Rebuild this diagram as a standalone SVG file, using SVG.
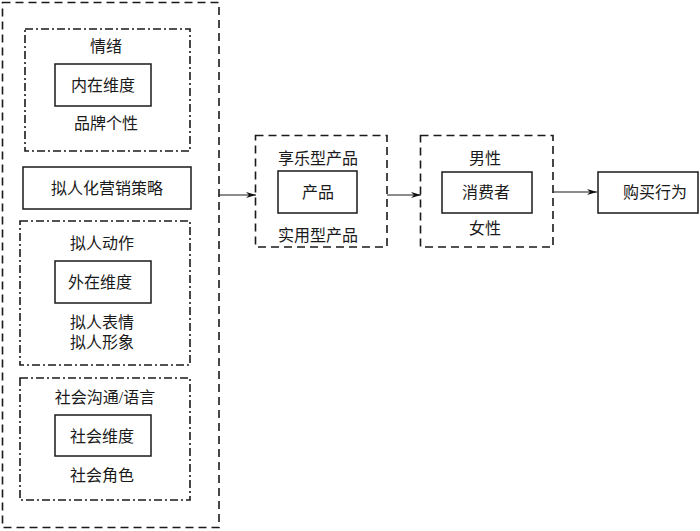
<svg xmlns="http://www.w3.org/2000/svg" width="700" height="531" viewBox="0 0 700 531">
<defs>
<marker id="arr" viewBox="0 0 10 6" refX="10" refY="3" markerWidth="10" markerHeight="6" markerUnits="userSpaceOnUse" orient="auto">
<path d="M0,0 L10,3 L0,6 L3,3 Z" fill="#111"/>
</marker>
<style>
text{font-family:"Liberation Serif","Noto Sans CJK SC",serif;font-size:16px;fill:#1a1a1a;text-anchor:middle;dominant-baseline:central}
.dash{fill:none;stroke:#1a1a1a;stroke-width:1.6;stroke-dasharray:8 5}
.dd{fill:none;stroke:#1a1a1a;stroke-width:1.6;stroke-dasharray:8 3 2 3}
.box{fill:#fff;stroke:#1a1a1a;stroke-width:1.5}
.con{fill:none;stroke:#1a1a1a;stroke-width:1.2}
</style>
</defs>
<rect width="700" height="531" fill="#fff"/>
<g id="strategy">
<rect class="dash" x="2.5" y="2.5" width="216.5" height="525"/>
</g>
<g id="inner">
<rect class="dd" x="25" y="29" width="165" height="122"/>
<text x="106" y="46">情绪</text>
<rect class="box" x="55" y="64" width="96" height="42"/>
<text x="103" y="85">内在维度</text>
<text x="106" y="123">品牌个性</text>
</g>
<g id="title">
<rect class="box" x="23" y="167" width="168" height="42"/>
<text x="107" y="188">拟人化营销策略</text>
</g>
<g id="outer">
<rect class="dd" x="20" y="221" width="170" height="144"/>
<text x="102" y="243">拟人动作</text>
<rect class="box" x="55" y="261" width="96" height="42"/>
<text x="100" y="282">外在维度</text>
<text x="102" y="322">拟人表情</text>
<text x="102" y="342">拟人形象</text>
</g>
<g id="social">
<rect class="dd" x="20" y="378" width="170" height="122"/>
<text x="105" y="397">社会沟通/语言</text>
<rect class="box" x="55" y="415" width="96" height="41"/>
<text x="102" y="436">社会维度</text>
<text x="102" y="475">社会角色</text>
</g>
<g id="product">
<rect class="dash" x="255.5" y="135.5" width="131.5" height="111.5"/>
<text x="318" y="158">享乐型产品</text>
<rect class="box" x="278" y="171" width="79" height="42"/>
<text x="318" y="192">产品</text>
<text x="318" y="235">实用型产品</text>
</g>
<g id="consumer">
<rect class="dash" x="420.5" y="135.5" width="132.5" height="111.5"/>
<text x="485" y="158">男性</text>
<rect class="box" x="442" y="172" width="90" height="41"/>
<text x="486" y="192">消费者</text>
<text x="485" y="228">女性</text>
</g>
<g id="behavior">
<rect class="box" x="598" y="172" width="100" height="41"/>
<text x="655" y="192">购买行为</text>
</g>
<g id="connectors">
<line class="con" x1="219" y1="195" x2="256" y2="195" marker-end="url(#arr)"/>
<line class="con" x1="387" y1="195" x2="421" y2="195" marker-end="url(#arr)"/>
<line class="con" x1="553" y1="192" x2="597" y2="192" marker-end="url(#arr)"/>
</g>
</svg>
